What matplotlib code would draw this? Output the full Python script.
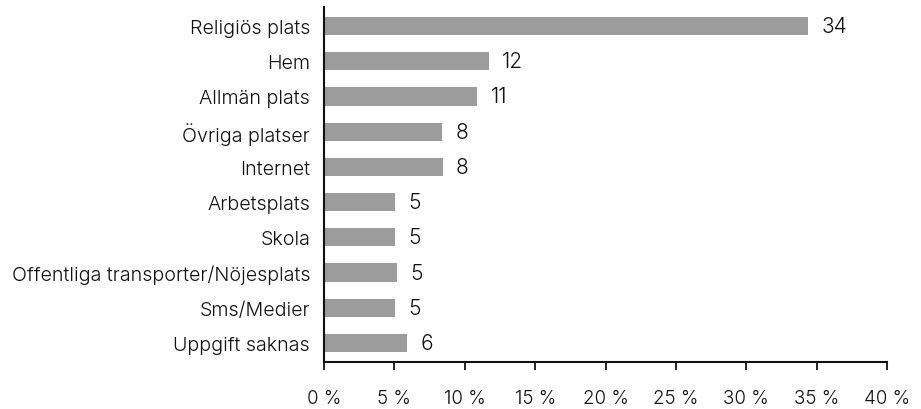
import matplotlib
matplotlib.use("Agg")
import matplotlib.pyplot as plt
from matplotlib.ticker import FixedLocator, FuncFormatter

categories = [
    "Religiös plats", "Hem", "Allmän plats", "Övriga platser", "Internet",
    "Arbetsplats", "Skola", "Offentliga transporter/Nöjesplats",
    "Sms/Medier", "Uppgift saknas",
]
values = [34.4, 11.7, 10.9, 8.4, 8.45, 5.05, 5.05, 5.2, 5.05, 5.9]
xticks = [0, 5, 10, 15, 20, 25, 30, 35, 40]

plt.rcParams["font.family"] = ["Inter", "DejaVu Sans"]
plt.rcParams["font.weight"] = 300

fig = plt.figure(figsize=(9.21, 4.10), dpi=100)
ax = fig.add_axes([324 / 921, 1 - 363 / 410, (887 - 324) / 921, (363 - 8) / 410])

y = list(range(len(categories)))
ax.barh(y, values, height=0.52, color="#9c9c9c", edgecolor="none")

for yi, v in zip(y, values):
    ax.text(v + 0.93, yi, f"{v:.0f}", va="center", ha="left", fontsize=15, color="#111111")

ax.set_xlim(0, 40)
ax.set_ylim(len(categories) - 0.46, -0.54)
ax.set_yticks(y)
ax.set_yticklabels(categories, fontsize=14.2, color="#111111")
ax.xaxis.set_major_locator(FixedLocator(xticks))
ax.xaxis.set_major_formatter(FuncFormatter(lambda v, p: f"{v:.0f} %"))

for s in ["top", "right"]:
    ax.spines[s].set_visible(False)
for s in ["left", "bottom"]:
    ax.spines[s].set_linewidth(1.5)
    ax.spines[s].set_color("#111111")

ax.tick_params(axis="y", length=0, pad=10)
ax.tick_params(axis="x", direction="out", length=6, width=1.3, color="#111111",
               labelsize=13.5, labelcolor="#111111", pad=13.5)

fig.savefig("out.png", dpi=100)
